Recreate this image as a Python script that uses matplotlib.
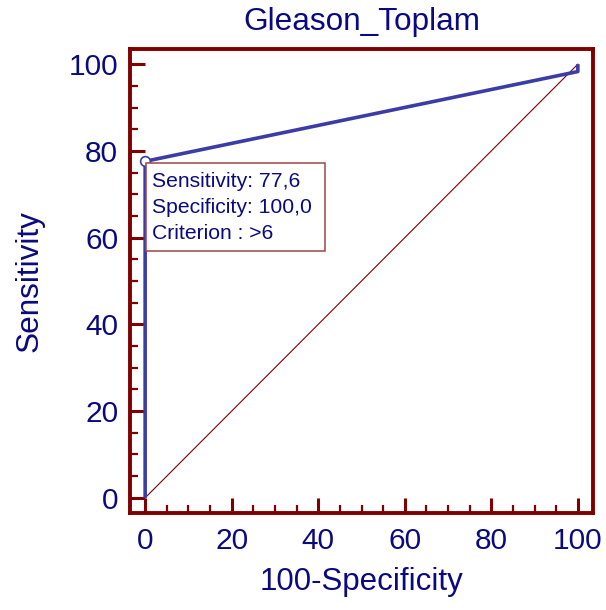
import matplotlib
matplotlib.use("Agg")
import matplotlib.pyplot as plt
from matplotlib.patches import Rectangle
from matplotlib.ticker import MultipleLocator

# Data
fpr = [0, 0, 100, 100]          # 100-Specificity
sens = [0, 77.6, 98.3, 100]     # Sensitivity
crit_fpr = 0
crit_sens = 77.6
crit_spec = 100.0
criterion = ">6"
diag = [0, 100]
title = "Gleason_Toplam"
xlabel = "100-Specificity"
ylabel = "Sensitivity"

plt.rcParams['font.family'] = ['Liberation Sans', 'DejaVu Sans']
navy = "#0a0a80"
maroon = "#800000"
blue = "#3c3ca6"

fig = plt.figure(figsize=(6.06, 6.10), dpi=100)
ax = fig.add_axes([130/606, 1-513/610, (593-130)/606, (513-49)/610])

ax.plot(diag, diag, color=maroon, lw=0.8, zorder=2)
ax.plot(fpr, sens, color=blue, lw=2.6, zorder=3, solid_capstyle='butt')
ax.plot([crit_fpr], [crit_sens], marker='o', ms=7, mfc='white', mec=blue, mew=1.2, zorder=4)

ax.set_xlim(-3.5, 103.5)
ax.set_ylim(-3.5, 103.5)
ax.xaxis.set_major_locator(MultipleLocator(20))
ax.yaxis.set_major_locator(MultipleLocator(20))
ax.xaxis.set_minor_locator(MultipleLocator(5))
ax.yaxis.set_minor_locator(MultipleLocator(5))
ax.tick_params(which='major', direction='in', length=10.5, width=2.2, color=maroon,
               labelsize=21.5, labelcolor=navy, pad=10, top=False, right=False)
ax.tick_params(which='minor', direction='in', length=5.5, width=1.6, color=maroon,
               top=False, right=False)
ax.tick_params(axis='y', which='major', pad=8.5)
for s in ax.spines.values():
    s.set_color(maroon)
    s.set_linewidth(2.8)

ax.set_title(title, fontsize=22.7, color=navy, pad=14)
ax.set_xlabel(xlabel, fontsize=22.5, color=navy, labelpad=9)
ax.set_ylabel(ylabel, fontsize=22.7, color=navy, labelpad=17)

# Annotation box anchored at the criterion point
fig.canvas.draw()
px, py = ax.transData.transform((crit_fpr, crit_sens))
bw, bh = 179, 88
rect = Rectangle((px + 1, py - bh - 2), bw, bh, transform=None, fill=True,
                 facecolor='white', edgecolor='#9b4545', lw=1.1, zorder=5)
fig.add_artist(rect)
lines = [f"Sensitivity: {crit_sens:.1f}".replace('.', ','),
         f"Specificity: {crit_spec:.1f}".replace('.', ','),
         f"Criterion : {criterion}"]
for i, t in enumerate(lines):
    fig.text((px + 7) / 606, (py - 26 - i * 26) / 610, t, fontsize=15.2,
             color=navy, ha='left', va='baseline', zorder=6)

fig.savefig("out.png", dpi=100)
